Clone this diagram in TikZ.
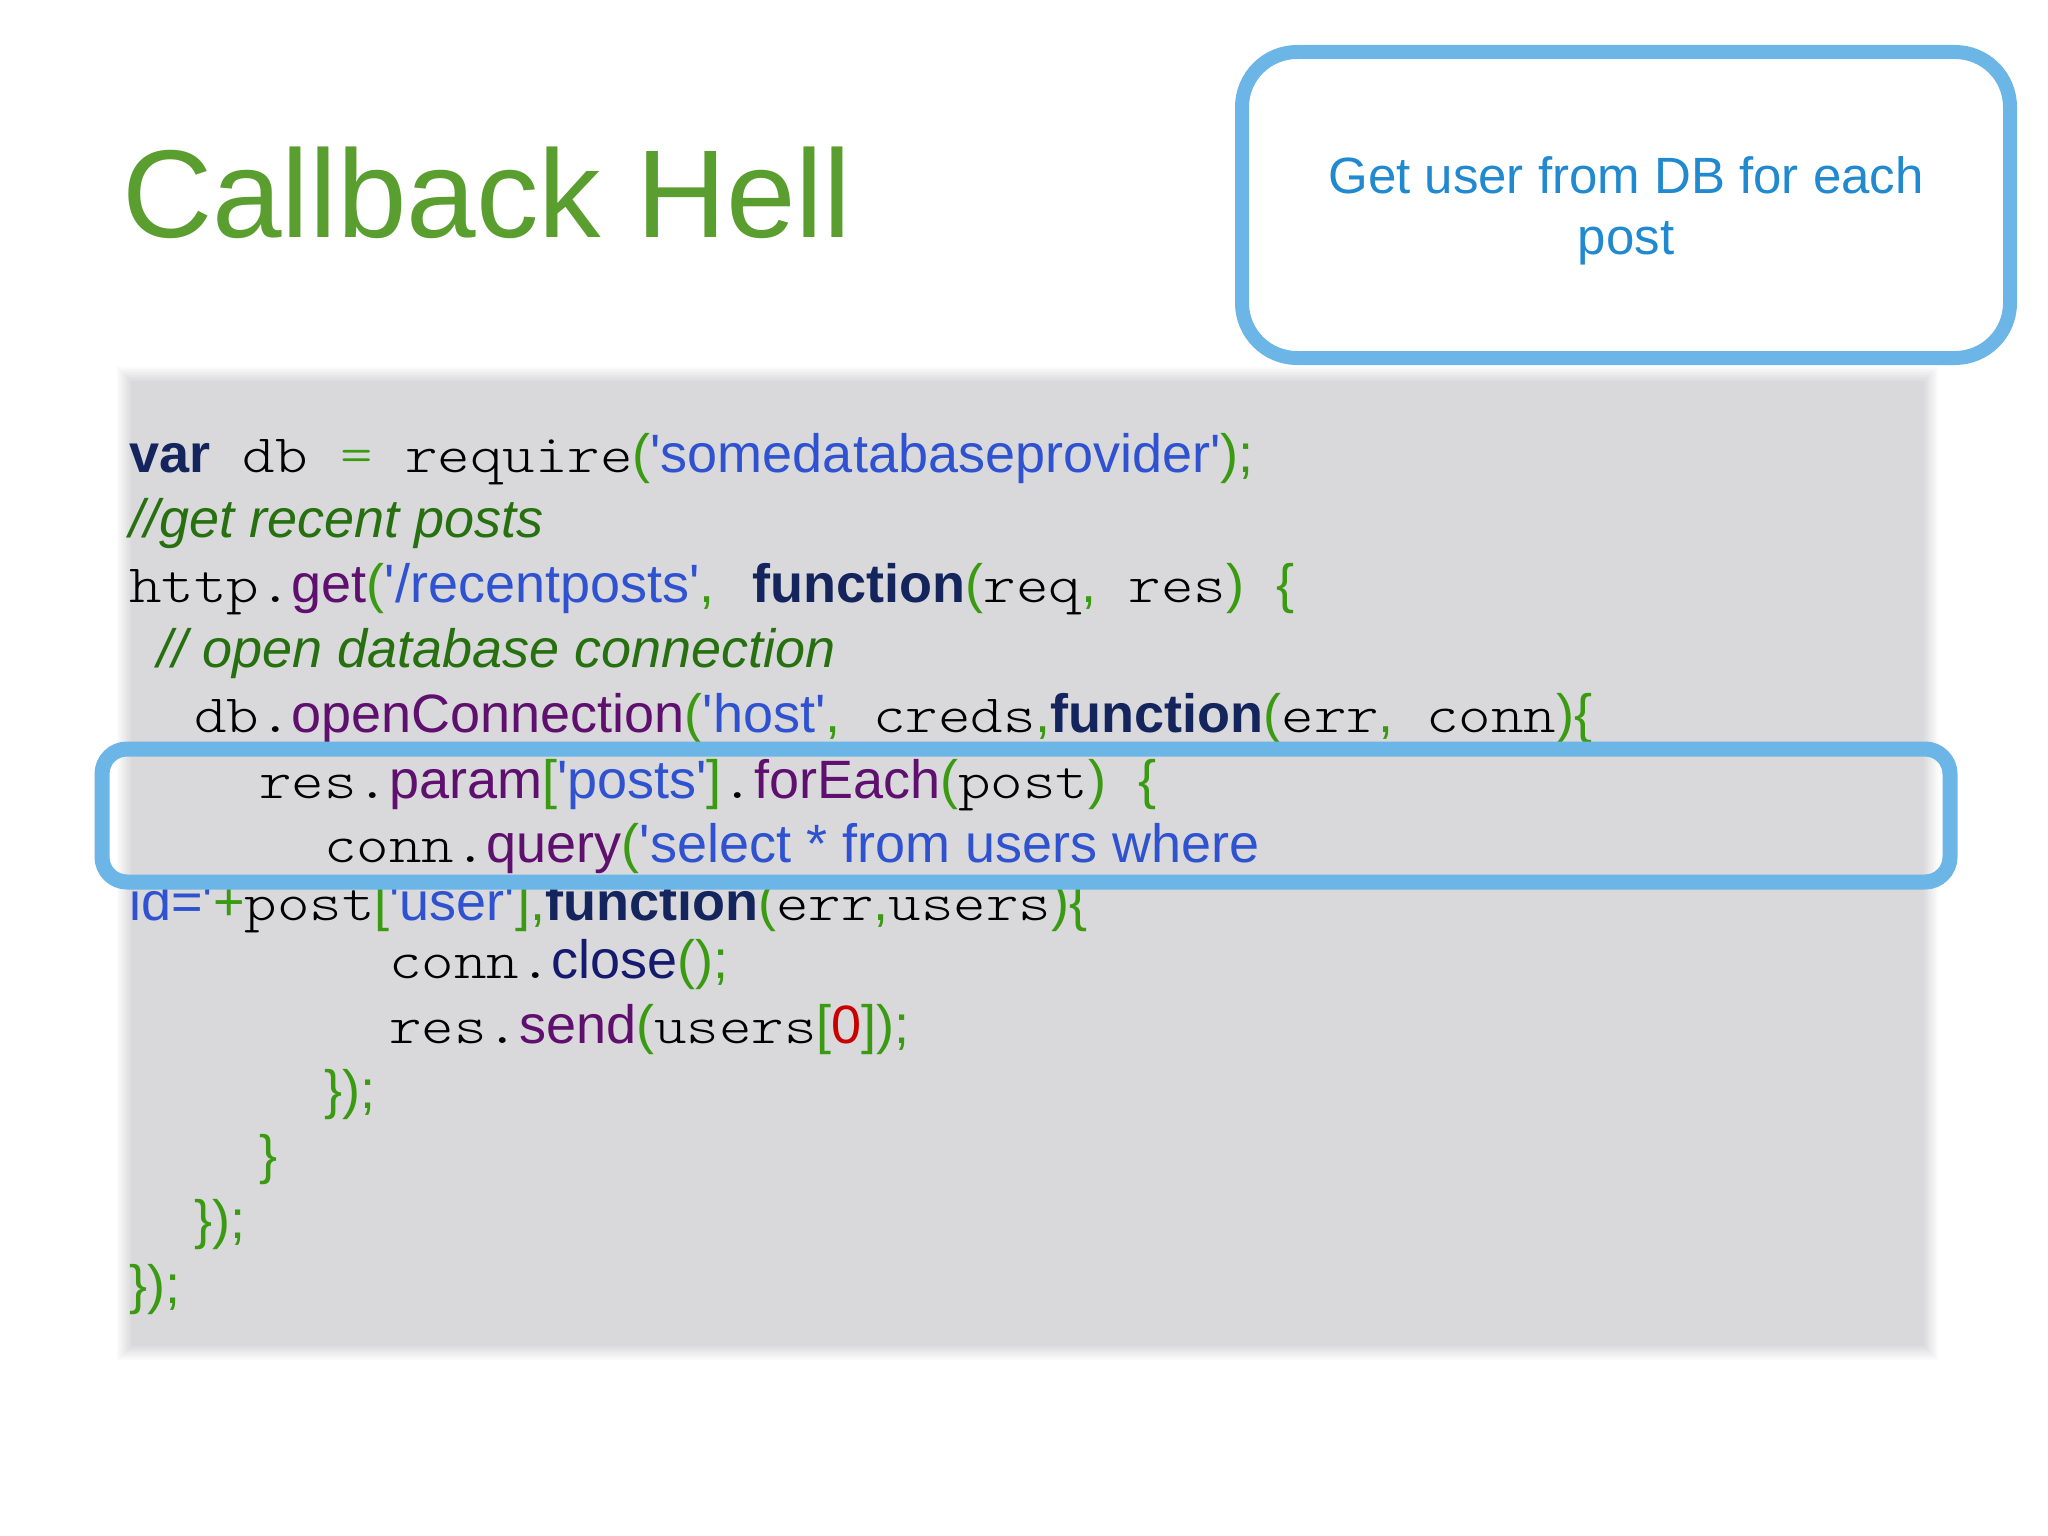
\documentclass[tikz,border=0pt]{standalone}
\usepackage{fontspec}
\setmainfont{Liberation Sans}
\newfontfamily\codesans{Liberation Sans}
\newfontfamily\codemono{lmmonolt10-regular.otf}[FakeStretch=1.146]
\definecolor{titlegreen}{HTML}{5A9E2F}
\definecolor{callblue}{HTML}{2189CF}
\definecolor{boxblue}{HTML}{6CB6E7}
\definecolor{boxgray}{HTML}{D9D8DB}
\definecolor{kwnavy}{HTML}{14245C}
\definecolor{closenavy}{HTML}{141A6E}
\definecolor{fnpurple}{HTML}{5F106F}
\definecolor{strblue}{HTML}{2F52D0}
\definecolor{pgreen}{HTML}{3A9A12}
\definecolor{comgreen}{HTML}{27700F}
\definecolor{numred}{HTML}{C80000}
\newcommand\cm[1]{{\codemono\color{black}\relax#1}}
\newcommand\cmg[1]{{\codemono\color{pgreen}\relax#1}}
\newcommand\ckw[1]{{\bfseries\color{kwnavy}\relax#1}}
\newcommand\cfn[1]{{\color{fnpurple}\relax#1}}
\newcommand\cst[1]{{\color{strblue}\relax#1}}
\newcommand\cpu[1]{{\color{pgreen}\relax#1}}
\newcommand\ccom[1]{{\itshape\color{comgreen}\relax#1}}
\newcommand\cnv[1]{{\color{closenavy}\relax#1}}
\newcommand\cred[1]{{\color{numred}\relax#1}}
\tikzset{
  codeline/.style={anchor=base west, inner sep=0pt, font=\codesans\fontsize{54}{65}\selectfont},
  titletext/.style={anchor=base west, inner sep=0pt, text=titlegreen, font=\fontsize{125}{150}\selectfont},
  calloutbox/.style={draw=boxblue, line width=14pt, rounded corners=55pt, fill=white, minimum width=768pt, minimum height=306pt, inner sep=0pt},
  callouttext/.style={inner sep=0pt, align=center, text=callblue, font=\fontsize{51}{61}\selectfont},
  highlightbox/.style={draw=boxblue, line width=15pt, rounded corners=25pt}
}
\begin{document}
\begin{tikzpicture}[x=1pt,y=-1pt]
\useasboundingbox[fill=white] (0,0) rectangle (2048,1536);
% title
\node[titletext] (title) at (122,237) {Callback Hell};
% callout
\node[calloutbox] (callout) at (1626,205) {};
\node[callouttext] (callouttext) at (1626,211) {Get user from DB for each\\post};
% gray code panel with soft edge
\foreach \i in {0,...,7}{
  \pgfmathsetmacro\d{16-2*\i}
  \pgfmathsetmacro\p{(\i+1)*12.5}
  \fill[boxgray!\p!white] (133-\d,383-\d) rectangle (1922+\d,1344+\d);
}
% code
\node[codeline] (l1) at (129,472) {\ckw{var}\cm{ db }\cmg{=}\cm{ require}\cpu{(}\cst{'somedatabaseprovider'}\cpu{);}};
\node[codeline] (l2) at (129,537) {\ccom{//get recent posts}};
\node[codeline] (l3) at (129,602) {\cm{http.}\cfn{get}\cpu{(}\cst{'/recentposts'}\cpu{,}\cm{ }\hspace{6pt}\ckw{function}\cpu{(}\cm{req}\cpu{,}\cm{ res}\cpu{)}\cm{ }\cpu{\{}};
\node[codeline] (l4) at (157,667) {\ccom{// open database connection}};
\node[codeline] (l5) at (194,732) {\cm{db.}\cfn{openConnection}\cpu{(}\cst{'host'}\cpu{,}\cm{ creds}\cpu{,}\ckw{function}\cpu{(}\cm{err}\cpu{,}\cm{ conn}\cpu{)\{}};
\node[codeline] (l6) at (259,798) {\cm{res.}\cfn{param}\cpu{[}\cst{'posts'}\cpu{]}\cm{.}\cfn{forEach}\cpu{(}\cm{post}\cpu{)}\cm{ }\cpu{\{}};
\node[codeline] (l7) at (324,862) {\cm{conn.}\cfn{query}\cpu{(}\cst{'select * from users where}};
\node[codeline] (l8) at (129,920) {\cst{id='}\cpu{+}\cm{post}\cpu{[}\cst{'user'}\cpu{],}\ckw{function}\cpu{(}\cm{err}\cpu{,}\cm{users}\cpu{)\{}};
\node[codeline] (l9) at (389,978) {\cm{conn.}\cnv{close}\cpu{();}};
\node[codeline] (l10) at (389,1043) {\cm{res.}\cfn{send}\cpu{(}\cm{users}\cpu{[}\cred{0}\cpu{]);}};
\node[codeline] (l11) at (324,1108) {\cpu{\});}};
\node[codeline] (l12) at (259,1173) {\cpu{\}}};
\node[codeline] (l13) at (194,1238) {\cpu{\});}};
\node[codeline] (l14) at (129,1303) {\cpu{\});}};
% highlight box over the forEach / query lines
\draw[highlightbox] (102,749) rectangle (1950,882);
\end{tikzpicture}
\end{document}
